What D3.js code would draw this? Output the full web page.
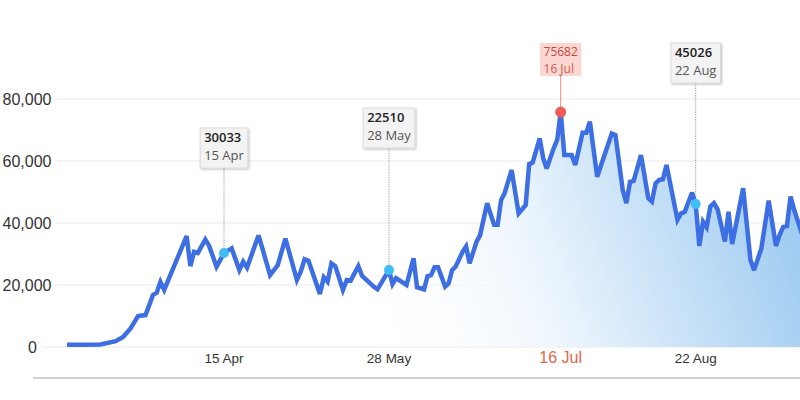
<!DOCTYPE html>
<html><head><meta charset="utf-8">
<script src="https://cdn.jsdelivr.net/npm/d3@7"></script>
<style>html,body{margin:0;padding:0;background:#fff} svg{display:block}</style>
</head><body>
<svg id="chart" width="800" height="400"></svg>
<script>
// ---------- data ----------
const dates = [
 "2020-03-04","2020-03-09","2020-03-13","2020-03-17","2020-03-19","2020-03-21","2020-03-23","2020-03-25","2020-03-27","2020-03-28","2020-03-29","2020-03-30",
 "2020-04-05","2020-04-06","2020-04-07","2020-04-08","2020-04-10","2020-04-11","2020-04-13","2020-04-15","2020-04-17","2020-04-19","2020-04-20","2020-04-21",
 "2020-04-24","2020-04-25","2020-04-27","2020-04-29","2020-05-01","2020-05-04","2020-05-05","2020-05-06","2020-05-07","2020-05-10","2020-05-11","2020-05-12",
 "2020-05-13","2020-05-14","2020-05-16","2020-05-17","2020-05-18","2020-05-20","2020-05-21","2020-05-24","2020-05-25","2020-05-28","2020-05-29","2020-05-30",
 "2020-06-02","2020-06-04","2020-06-05","2020-06-07","2020-06-08","2020-06-09","2020-06-10","2020-06-11","2020-06-13","2020-06-14","2020-06-15","2020-06-16",
 "2020-06-18","2020-06-19","2020-06-20","2020-06-22","2020-06-23","2020-06-25","2020-06-27","2020-06-28","2020-06-29","2020-06-30","2020-07-02","2020-07-04",
 "2020-07-06","2020-07-07","2020-07-08","2020-07-10","2020-07-11","2020-07-12","2020-07-14","2020-07-15","2020-07-16","2020-07-17","2020-07-19","2020-07-20",
 "2020-07-22","2020-07-23","2020-07-24","2020-07-26","2020-07-30","2020-07-31","2020-08-02","2020-08-03","2020-08-04","2020-08-05","2020-08-07","2020-08-09",
 "2020-08-10","2020-08-11","2020-08-12","2020-08-13","2020-08-14","2020-08-17","2020-08-18","2020-08-19","2020-08-21","2020-08-22","2020-08-23","2020-08-24",
 "2020-08-25","2020-08-26","2020-08-27","2020-08-28","2020-08-30","2020-08-31","2020-09-01","2020-09-04","2020-09-06","2020-09-07","2020-09-09","2020-09-11",
 "2020-09-13","2020-09-14","2020-09-15","2020-09-16","2020-09-17","2020-09-18","2020-09-20","2020-09-22"
];
const values = [
 700,700,800,1900,3200,6000,10000,10300,16800,17500,21000,18400,
 35800,26100,30700,30300,34700,32700,25900,30300,31800,24800,27500,25600,
 36000,31800,23200,26400,35000,21600,24300,28300,27800,17100,22500,21100,
 27000,26100,18400,21600,21400,26100,22900,19500,18600,24800,20300,22200,
 20000,28600,19300,18600,22900,23200,25700,25700,19500,20500,24800,25900,
 30700,32400,27000,34000,36100,46400,39400,39400,47400,49600,57100,43100,
 45800,59000,59500,67300,60900,57600,64100,66800,75800,61900,61900,58700,
 69100,69100,72700,54900,68900,68400,50600,46400,53300,53600,61900,48000,
 46900,52800,53900,54100,58700,41000,43100,43600,49800,46100,32600,40400,
 38600,45300,46400,44400,34000,43600,33200,51200,28100,24800,31800,47200,
 32600,36100,38800,39000,48500,44200,37000,41000
];
const yTicks = [0, 20000, 40000, 60000, 80000];
const xTickDates = ["2020-04-15","2020-05-28","2020-07-16","2020-08-22"];
const xTickLabels = ["15 Apr","28 May","16 Jul","22 Aug"];
const calloutDates = ["2020-04-15","2020-05-28","2020-07-16","2020-08-22"];
const calloutValues = [30033, 22510, 75682, 45026];
const calloutLabels = ["15 Apr","28 May","16 Jul","22 Aug"];
const highlightDate = "2020-07-16";

// ---------- layout ----------
const calloutTop = [128, 108, 43, 43];
const scaleAnchors = ["2020-03-04","2020-04-15","2020-05-28","2020-07-16","2020-08-22","2020-09-22"];
const scaleAnchorPx = [67, 224, 389, 560.7, 695.7, 808.8];

const parse = d3.utcParse("%Y-%m-%d");
const series = dates.map((d, i) => ({date: parse(d), value: values[i]}));

const svg = d3.select("#chart");
const x = d3.scaleUtc().domain(scaleAnchors.map(parse)).range(scaleAnchorPx);
const y = d3.scaleLinear().domain([0, 80000]).range([347, 99]);

// gradient
const defs = svg.append("defs");
const grad = defs.append("linearGradient").attr("id", "areaGrad")
  .attr("gradientUnits", "userSpaceOnUse")
  .attr("x1", 360).attr("y1", 347).attr("x2", 800).attr("y2", 180);
grad.append("stop").attr("offset", 0).attr("stop-color", "#ffffff").attr("stop-opacity", 0);
grad.append("stop").attr("offset", 0.4).attr("stop-color", "#eef6fd").attr("stop-opacity", 1);
grad.append("stop").attr("offset", 1).attr("stop-color", "#98c8f0").attr("stop-opacity", 1);
const shadow = defs.append("filter").attr("id", "shadow").attr("x", "-20%").attr("y", "-20%").attr("width", "150%").attr("height", "150%");
shadow.append("feDropShadow").attr("dx", 1).attr("dy", 1).attr("stdDeviation", 0.8).attr("flood-color", "#000").attr("flood-opacity", 0.28);

// grid + y labels
const yAxis = svg.append("g").attr("class", "y-axis");
yTicks.forEach(t => {
  yAxis.append("line")
    .attr("x1", t === 0 ? 42 : 55).attr("x2", 800)
    .attr("y1", y(t)).attr("y2", y(t))
    .attr("stroke", "#e9e9e9").attr("stroke-width", 1);
  yAxis.append("text")
    .attr("x", t === 0 ? 37 : 51.5).attr("y", y(t)).attr("dy", "0.36em")
    .attr("text-anchor", "end")
    .attr("font-family", "Liberation Sans, Arial, sans-serif")
    .attr("font-size", 16).attr("fill", "#333")
    .text(d3.format(",")(t));
});

// area + line
const area = d3.area().x(d => x(d.date)).y0(y(0)).y1(d => y(d.value));
const line = d3.line().x(d => x(d.date)).y(d => y(d.value));
svg.append("path").datum(series).attr("d", area).attr("fill", "url(#areaGrad)");

// callout connectors (behind line)
const valueAt = ds => series.find(p => +p.date === +parse(ds)).value;
const conn = svg.append("g");
calloutDates.forEach((ds, i) => {
  const isPeak = ds === highlightDate;
  const cx = x(parse(ds)), cy = y(valueAt(ds));
  const bottom = calloutTop[i] + (isPeak ? 33 : 40);
  conn.append("line").attr("x1", cx).attr("x2", cx).attr("y1", bottom).attr("y2", cy)
    .attr("stroke", isPeak ? "#ee8a84" : "#9a9a9a").attr("stroke-width", 1)
    .attr("stroke-dasharray", isPeak ? null : "1.2,1.2");
});

svg.append("path").datum(series).attr("d", line)
  .attr("fill", "none").attr("stroke", "#3d6fe3").attr("stroke-width", 4.5)
  .attr("stroke-linejoin", "miter").attr("stroke-miterlimit", 3);

// dots + boxes
const callouts = svg.append("g");
calloutDates.forEach((ds, i) => {
  const isPeak = ds === highlightDate;
  const cx = x(parse(ds)), cy = y(valueAt(ds));
  callouts.append("circle").attr("cx", cx).attr("cy", cy).attr("r", isPeak ? 5.5 : 5)
    .attr("fill", isPeak ? "#ef5b57" : "#3fbdf4");
  const g = callouts.append("g");
  const rect = g.append("rect");
  const fs = isPeak ? 12 : 13;
  const t1 = g.append("text").attr("font-family", "Open Sans, sans-serif").attr("font-size", fs)
    .attr("font-weight", isPeak ? 400 : 600).attr("fill", isPeak ? "#c9463d" : "#222")
    .attr("y", calloutTop[i] + (isPeak ? 13 : 14)).text(calloutValues[i]);
  const t2 = g.append("text").attr("font-family", "Open Sans, sans-serif").attr("font-size", fs)
    .attr("fill", isPeak ? "#d2584d" : "#555")
    .attr("y", calloutTop[i] + (isPeak ? 29.5 : 32)).text(calloutLabels[i]);
  const w = Math.max(t1.node().getComputedTextLength(), t2.node().getComputedTextLength()) + (isPeak ? 7 : 8);
  const bx = cx - w / 2;
  t1.attr("x", bx + (isPeak ? 3.5 : 4));
  t2.attr("x", bx + (isPeak ? 3.5 : 4));
  rect.attr("x", bx).attr("y", calloutTop[i]).attr("width", w).attr("height", isPeak ? 33 : 40)
    .attr("fill", isPeak ? "#fcd7d1" : "#f3f3f3")
    .attr("stroke", isPeak ? "none" : "#d6d6d6").attr("stroke-width", 0.8)
    .attr("filter", isPeak ? null : "url(#shadow)");
});

// x labels
const xAxis = svg.append("g");
xTickDates.forEach((ds, i) => {
  const isPeak = ds === highlightDate;
  xAxis.append("text").attr("x", x(parse(ds))).attr("y", 363)
    .attr("text-anchor", "middle")
    .attr("font-family", "Liberation Sans, Arial, sans-serif")
    .attr("font-size", isPeak ? 16 : 13.5)
    .attr("fill", isPeak ? "#e2664a" : "#333")
    .text(xTickLabels[i]);
});

// bottom rule
svg.append("line").attr("x1", 33).attr("x2", 800).attr("y1", 378).attr("y2", 378)
  .attr("stroke", "#c4c4c4").attr("stroke-width", 1.5);
</script>
</body></html>
